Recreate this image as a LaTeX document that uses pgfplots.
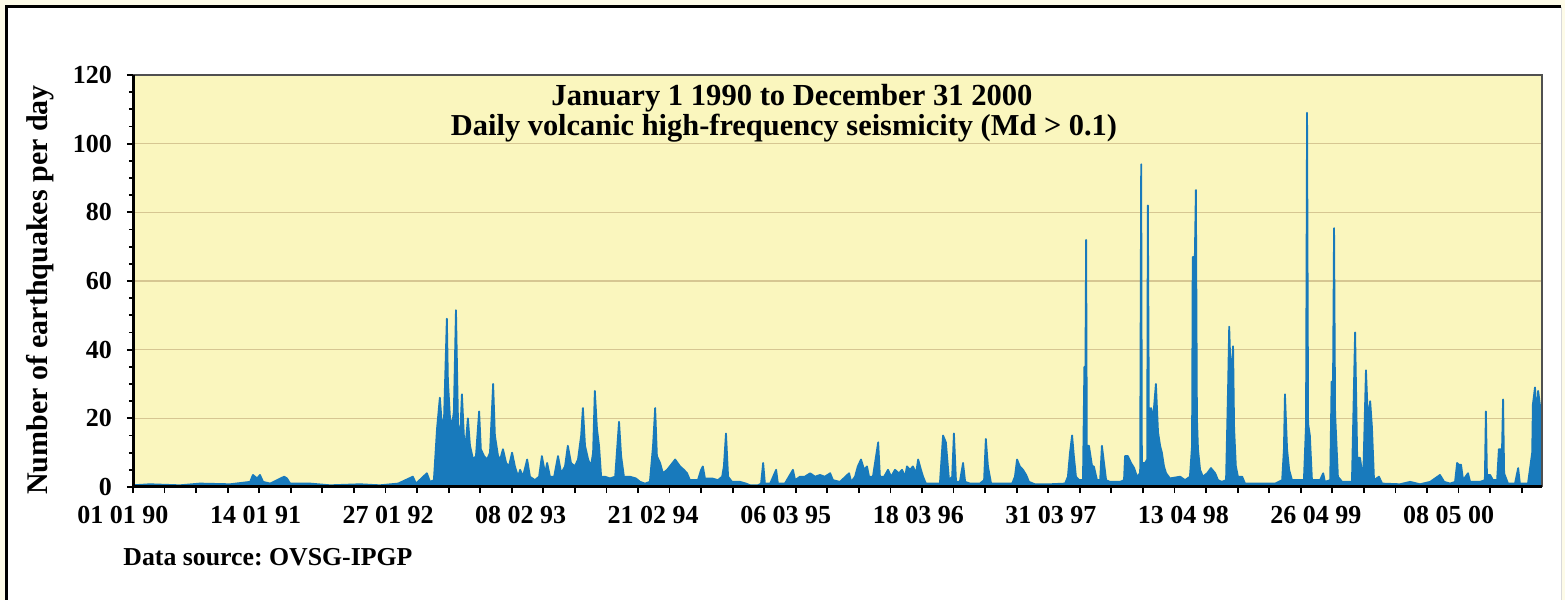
\documentclass[border=0pt]{standalone}
\usepackage{fontspec}
\setmainfont{Liberation Serif}
\usepackage{pgfplots}
\pgfplotsset{compat=1.18}
\definecolor{cream}{RGB}{253,251,232}
\definecolor{plotbg}{RGB}{250,246,190}
\definecolor{gridc}{RGB}{214,198,146}
\definecolor{quake}{RGB}{24,122,188}
\definecolor{frameg}{RGB}{80,80,80}
\begin{document}
\frenchspacing
\begin{tikzpicture}
\useasboundingbox (0,0) rectangle (782.5pt,300pt);
\fill[cream] (0,0) rectangle (782.5pt,300pt);
\fill[white] (3pt,-5pt) rectangle (780.5pt,296.5pt);
\draw[black, line width=1.5pt] (3pt,-5pt) -- (3pt,296.5pt) -- (780.5pt,296.5pt);
\draw[black!15, line width=0.5pt] (780.5pt,296.5pt) -- (780.5pt,-5pt);
\begin{axis}[
  at={(66.5pt,56.5pt)}, anchor=south west,
  scale only axis, width=704.5pt, height=206pt,
  xmin=0, xmax=4018, ymin=0, ymax=120,
  axis background/.style={fill=plotbg},
  axis line style={draw=none},
  clip mode=individual,
  xtick pos=bottom, ytick pos=left,
  ytick={0,20,...,120},
  minor y tick num=3,
  ymajorgrids, major grid style={draw=gridc, line width=0.8pt},
  xtick={0,90,...,3960},
  xticklabels={},
  extra x ticks={0,378,756,1134,1512,1890,2268,2646,3024,3402,3780},
  extra x tick labels={01 01 90,14 01 91,27 01 92,08 02 93,21 02 94,06 03 95,18 03 96,31 03 97,13 04 98,26 04 99,08 05 00},
  extra x tick style={major tick length=0pt, xticklabel style={xshift=-5pt}},
  tick align=outside,
  major tick length=3pt, minor tick length=2pt,
  tick style={draw=black, line width=0.9pt},
  /pgf/number format/assume math mode=true,
  tick label style={font=\fontsize{13pt}{13pt}\selectfont\bfseries},
  yticklabel style={xshift=-4pt},
  xticklabel style={yshift=-6pt},
]
\addplot[fill=quake, draw=quake, line width=0.9pt, line join=round] coordinates {
(0,0.5)(48,0.8)(134,0.5)(191,1)(277,0.8)(334,1.5)(342,3.5)(354,2.5)(362,3.5)(371,1.5)(391,1)(431,3)(439,2.5)(448,1)(505,1)(562,0.5)(647,0.8)(704,0.5)(756,1)(798,3)(807,1)(838,4)(847,1.5)(858,2)(867,17)(875,26)(881,18)(887,20)(895,49)(898,31)(904,20)(910,18)(915,22)(921,51.5)(927,18)(933,15)(938,27)(944,14)(950,14)(955,20)(961,12)(970,8)(978,9)(987,22)(992,11)(1001,9)(1010,8)(1018,10)(1027,30)(1032,15)(1041,9)(1047,8)(1055,11)(1064,7)(1072,6)(1081,10)(1089,6)(1098,3)(1104,5)(1112,3)(1124,8)(1132,3)(1146,2)(1158,3)(1166,9)(1175,4)(1181,7)(1189,3)(1201,3)(1212,9)(1221,4)(1232,6)(1240,12)(1249,7)(1260,6)(1269,8)(1278,15)(1283,23)(1289,12)(1298,8)(1306,6)(1312,10)(1317,28)(1323,17)(1329,12)(1335,3)(1346,3)(1360,2.5)(1375,3)(1386,19)(1392,9)(1400,3)(1417,3)(1434,2.5)(1446,1.5)(1460,1)(1474,1.5)(1483,12)(1489,23)(1494,9)(1503,7)(1511,4)(1523,5)(1531,6)(1546,8)(1560,6)(1571,5)(1580,4)(1588,2)(1611,2)(1620,5)(1625,6)(1631,2.5)(1651,2.5)(1668,2)(1680,3)(1685,6)(1691,15.6)(1697,3)(1708,1.5)(1731,1.5)(1748,1)(1760,0.5)(1782,0.5)(1791,1)(1797,7)(1802,1)(1817,1)(1834,5)(1839,1)(1859,1)(1882,5)(1888,2)(1902,3)(1916,3)(1931,4)(1945,3)(1959,3.5)(1973,3)(1988,4)(1996,2)(2016,1.5)(2042,4)(2048,1.5)(2059,3)(2067,6)(2076,8)(2085,5)(2093,6)(2099,3)(2110,3)(2125,13)(2130,3)(2142,3)(2153,5)(2162,3)(2173,5)(2184,4)(2193,5)(2202,3)(2207,6)(2216,5)(2224,6)(2233,4)(2239,8)(2247,5)(2253,3)(2261,1)(2301,1)(2310,15)(2318,13)(2327,2)(2336,3)(2341,15.6)(2347,1.5)(2358,1.5)(2367,7)(2373,1.5)(2387,1)(2415,1)(2427,2)(2432,14)(2438,6)(2447,1)(2472,1)(2507,1)(2515,3)(2521,8)(2529,6)(2538,5)(2547,3.5)(2555,1.5)(2572,0.8)(2615,0.8)(2658,1)(2666,3)(2672,10)(2678,15)(2683,9)(2689,3)(2698,2)(2709,2)(2713,35)(2716,35)(2718,72)(2720,12)(2726,12)(2735,6)(2740,6)(2749,2)(2758,2)(2763,12)(2769,7)(2775,2)(2786,1.5)(2815,1.5)(2826,2)(2829,9)(2837,9)(2846,7)(2855,5.5)(2863,3)(2872,4)(2875,94)(2877,7)(2886,7)(2892,8)(2894,82)(2897,20)(2903,23)(2909,20)(2917,30)(2923,16)(2929,12)(2934,10)(2940,6)(2946,4)(2957,2.5)(2986,3)(3000,2)(3014,3)(3020,12)(3022,67)(3028,67)(3031,86.5)(3034,20)(3037,11)(3043,5)(3051,3)(3063,4)(3074,5.5)(3086,4)(3094,2)(3105,1.5)(3117,2)(3123,30)(3126,46.7)(3131,30)(3137,41)(3140,17)(3145,6)(3151,3)(3163,3)(3171,1)(3214,1)(3257,1)(3277,2)(3282,11)(3285,27)(3291,11)(3297,5)(3305,2)(3328,2)(3339,2)(3345,18)(3348,109)(3351,18.5)(3356,15)(3362,2)(3385,2)(3394,4)(3399,1.5)(3414,2)(3418,30.7)(3422,30)(3425,75.4)(3428,21.5)(3436,3)(3448,1.5)(3476,1.5)(3485,45)(3491,8.5)(3499,8.5)(3508,2)(3516,34)(3522,18.5)(3528,25)(3533,17.5)(3539,2)(3553,3)(3562,1)(3613,0.8)(3642,1.5)(3670,0.8)(3699,1.5)(3727,3.5)(3739,1.5)(3756,1)(3770,1.5)(3776,7)(3781,6.5)(3787,6.5)(3793,2)(3807,4)(3813,1.5)(3841,1.5)(3855,2)(3858,22)(3861,3.5)(3870,3.5)(3878,2)(3890,2)(3895,11)(3904,11)(3907,25.5)(3910,4)(3921,1)(3941,1)(3950,5.5)(3955,1)(3978,1)(3990,10)(3992,24)(3998,29)(4004,20)(4007,28)(4012,24)(4015,20)(4018,3)
} \closedcycle;
\draw[frameg, line width=1pt] (rel axis cs:0,1) -- (rel axis cs:1,1) -- (rel axis cs:1,0);
\draw[black, line width=1.5pt] (rel axis cs:0,1) -- (rel axis cs:0,0) -- (rel axis cs:1,0);
\end{axis}
\node[font=\fontsize{15.3pt}{15.3pt}\selectfont\bfseries] at (396pt,251pt) {January 1 1990 to December 31 2000};
\node[font=\fontsize{15.2pt}{15.2pt}\selectfont\bfseries] at (392pt,236pt) {Daily volcanic high-frequency seismicity (Md > 0.1)};
\node[rotate=90, font=\fontsize{15pt}{15pt}\selectfont\bfseries] at (20pt,155pt) {Number of earthquakes per day};
\node[anchor=west, inner sep=0pt, font=\fontsize{12.9pt}{12.9pt}\selectfont\bfseries] at (61.5pt,21.5pt) {Data source: OVSG-IPGP};
\end{tikzpicture}
\end{document}
